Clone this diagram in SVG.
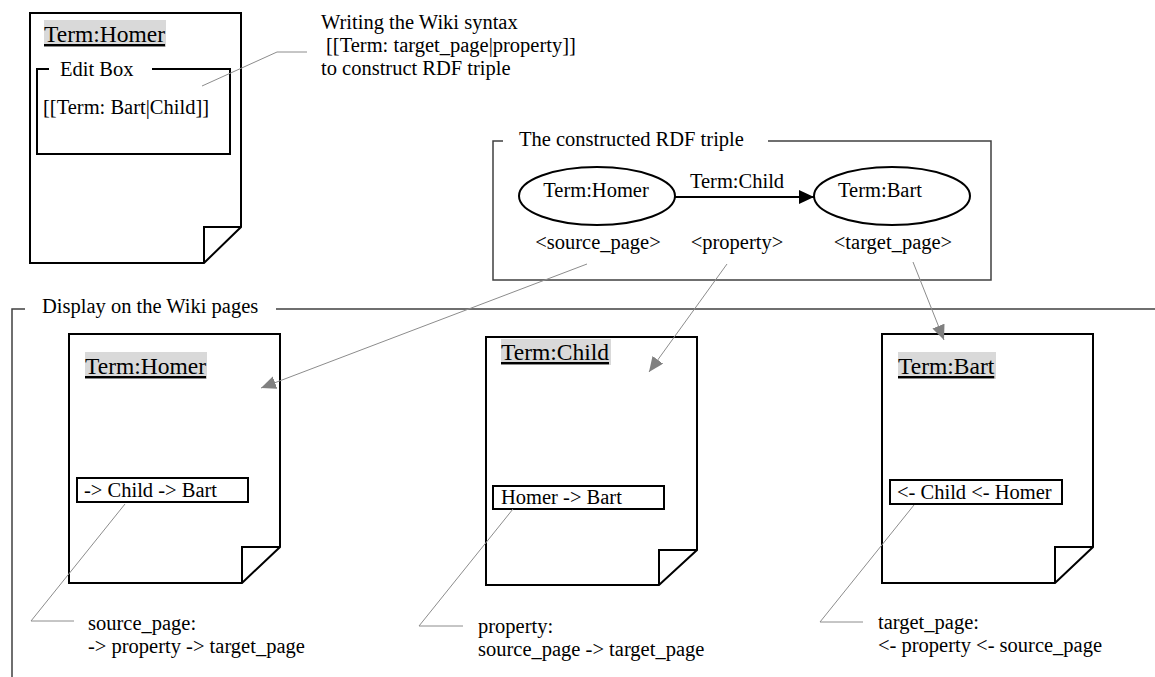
<svg xmlns="http://www.w3.org/2000/svg" width="1155" height="677" viewBox="0 0 1155 677">
<style>
text{font-family:"Liberation Serif","Times New Roman",serif;font-size:20.5px;fill:#000}
.h{font-size:23.5px;text-decoration:underline}
.hl{fill:#d9d9d9}
.page{fill:#fff;stroke:#000;stroke-width:2;stroke-linejoin:miter}
.fold{fill:none;stroke:#000;stroke-width:2}
.frame{fill:none;stroke:#404040;stroke-width:1.5}
.box{fill:#fff;stroke:#000;stroke-width:2}
.call{fill:none;stroke:#8c8c8c;stroke-width:1}
.gl{fill:none;stroke:#8c8c8c;stroke-width:1}
.ell{fill:#fff;stroke:#000;stroke-width:2}
.c{text-anchor:middle}
</style>
<defs>
<marker id="ga" markerUnits="userSpaceOnUse" markerWidth="16" markerHeight="14" refX="15" refY="6.5" orient="auto">
<path d="M0,0 L15,6.5 L0,13 Z" fill="#808080"/>
</marker>
<marker id="ba" markerUnits="userSpaceOnUse" markerWidth="16" markerHeight="15" refX="15" refY="7" orient="auto">
<path d="M0,0 L15,7 L0,14 Z" fill="#000"/>
</marker>
</defs>

<g id="frames">
<path class="frame" d="M503,141 H493 V280 H991 V141 H768"/>
<text x="519" y="146">The constructed RDF triple</text>
<path class="frame" d="M25,309 H12 V677 M276,309 H1155"/>
<text x="42" y="313">Display on the Wiki pages</text>
</g>

<g id="edit-page">
<path class="page" d="M30,13 H241 V227 L204,263 H30 Z"/>
<path class="fold" d="M204,263 V227 H241"/>
<rect class="hl" x="44" y="20" width="122" height="27"/>
<text class="h" x="44" y="42">Term:Homer</text>
<path class="fold" d="M49,69 H37 V154 H230 V69 H152"/>
<text x="60" y="76">Edit Box</text>
<text x="43" y="114">[[Term: Bart|Child]]</text>
</g>

<g id="note-syntax">
<text x="321" y="29">Writing the Wiki syntax</text>
<text x="326" y="52">[[Term: target_page|property]]</text>
<text x="321" y="75">to construct RDF triple</text>
</g>

<g id="node-homer">
<ellipse class="ell" cx="597" cy="196" rx="78" ry="29"/>
<text class="c" x="596" y="197">Term:Homer</text>
<text class="c" x="598" y="249">&lt;source_page&gt;</text>
</g>
<g id="node-bart">
<ellipse class="ell" cx="892" cy="196" rx="78" ry="29"/>
<text x="838" y="197">Term:Bart</text>
<text class="c" x="893" y="249">&lt;target_page&gt;</text>
</g>

<g id="page-homer">
<path class="page" d="M69,334 H280 V547 L242,583 H69 Z"/>
<path class="fold" d="M242,583 V547 H280"/>
<rect class="hl" x="85" y="352" width="122" height="27"/>
<text class="h" x="85" y="374">Term:Homer</text>
<rect class="box" x="77" y="478" width="171" height="24"/>
<text x="84" y="497">-&gt; Child -&gt; Bart</text>
</g>

<g id="page-child">
<path class="page" d="M486,337 H697 V550 L659,585 H486 Z"/>
<path class="fold" d="M659,585 V550 H697"/>
<rect class="hl" x="501" y="339" width="110" height="26"/>
<text class="h" x="501" y="360">Term:Child</text>
<rect class="box" x="493" y="486" width="171" height="23"/>
<text x="501" y="504">Homer -&gt; Bart</text>
</g>

<g id="page-bart">
<path class="page" d="M882,334 H1093 V547 L1055,583 H882 Z"/>
<path class="fold" d="M1055,583 V547 H1093"/>
<rect class="hl" x="898" y="352" width="98" height="27"/>
<text class="h" x="898" y="374">Term:Bart</text>
<rect class="box" x="890" y="480" width="172" height="24"/>
<text x="897" y="499">&lt;- Child &lt;- Homer</text>
</g>

<g id="notes">
<text x="88" y="630">source_page:</text>
<text x="88" y="653">-&gt; property -&gt; target_page</text>
<text x="478" y="633">property:</text>
<text x="478" y="656">source_page -&gt; target_page</text>
<text x="878" y="629">target_page:</text>
<text x="878" y="652">&lt;- property &lt;- source_page</text>
</g>

<g id="connectors">
<line x1="675" y1="197" x2="814" y2="197" stroke="#000" stroke-width="2" marker-end="url(#ba)"/>
<text class="c" x="737" y="188">Term:Child</text>
<text class="c" x="737" y="249">&lt;property&gt;</text>
<line class="gl" x1="587" y1="264" x2="261" y2="388" marker-end="url(#ga)"/>
<line class="gl" x1="727" y1="264" x2="649" y2="372" marker-end="url(#ga)"/>
<line class="gl" x1="913" y1="262" x2="944" y2="340" marker-end="url(#ga)"/>
<polyline class="call" points="202,86 277,52 307,52"/>
<polyline class="call" points="125,504 31,621 74,621"/>
<polyline class="call" points="513,509 419,626 463,626"/>
<polyline class="call" points="914,505 820,622 863,622"/>
</g>
</svg>
